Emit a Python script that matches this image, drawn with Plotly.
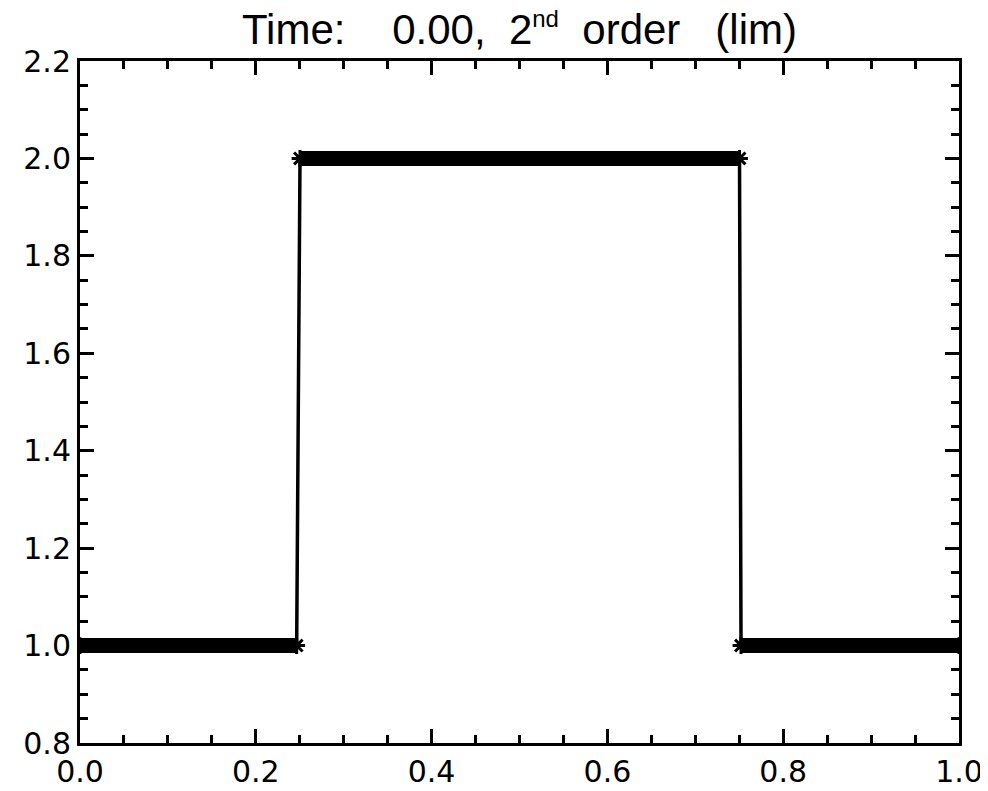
import plotly.graph_objects as go

# ---- data ----
x_profile = [0.0, 0.2465, 0.2484, 0.2503, 0.7503, 0.7512, 0.7520, 1.0]
y_profile = [1.0, 1.0, 1.5, 2.0, 2.0, 1.5, 1.0, 1.0]

x_tick_vals = [0.0, 0.2, 0.4, 0.6, 0.8, 1.0]
x_tick_text = ["0.0", "0.2", "0.4", "0.6", "0.8", "1.0"]
y_tick_vals = [0.8, 1.0, 1.2, 1.4, 1.6, 1.8, 2.0, 2.2]
y_tick_text = ["0.8", "1.0", "1.2", "1.4", "1.6", "1.8", "2.0", "2.2"]

title_text = ("Time:\u00a0\u00a0\u00a0\u00a00.00,\u00a0\u00a02"
              "<sup><span style=\"font-size:24px\">nd</span></sup>"
              "\u00a0\u00a0order\u00a0\u00a0\u00a0(lim)")

# ---- styles ----
BLACK = "black"
TICK_FONT = dict(family="DejaVu Sans", size=30, color=BLACK)
TITLE_FONT = dict(family="Liberation Sans", size=42, color=BLACK)

# page body adds an 8px offset; size the figure to fit the window
FIG_W, FIG_H = 980, 783

fig = go.Figure()

# thin connecting profile line
fig.add_trace(go.Scatter(x=x_profile, y=y_profile, mode="lines",
                         line=dict(color=BLACK, width=3.5),
                         hoverinfo="skip", showlegend=False))

# thick plateaus (dense asterisk markers in the original)
i = 0
n = len(x_profile)
while i < n:
    j = i
    while j + 1 < n and y_profile[j + 1] == y_profile[i]:
        j += 1
    if j > i:
        xs = [x_profile[i], x_profile[j]]
        ys = [y_profile[i], y_profile[j]]
        fig.add_trace(go.Scatter(x=xs, y=ys, mode="lines+markers",
                                 line=dict(color=BLACK, width=15),
                                 marker=dict(symbol="asterisk-open", size=14,
                                             line=dict(color=BLACK, width=3),
                                             color=BLACK),
                                 hoverinfo="skip", showlegend=False))
    i = j + 1

axis_common = dict(
    showgrid=False, zeroline=False, automargin=False,
    showline=True, linecolor=BLACK, linewidth=3, mirror="ticks",
    ticks="inside", ticklen=14, tickwidth=3, tickcolor=BLACK,
    tickfont=TICK_FONT,
    minor=dict(ticks="inside", ticklen=8, tickwidth=3, tickcolor=BLACK,
               dtick=0.05, showgrid=False),
)

fig.update_xaxes(range=[0, 1], tickmode="array", tickvals=x_tick_vals,
                 ticktext=x_tick_text, **axis_common)
fig.update_yaxes(range=[0.8, 2.2], tickmode="array", tickvals=y_tick_vals,
                 ticktext=y_tick_text, **axis_common)

fig.update_layout(
    width=FIG_W, height=FIG_H,
    margin=dict(l=72, r=29, t=53, b=48, autoexpand=False),
    paper_bgcolor="white", plot_bgcolor="white",
    title=dict(text=title_text, font=TITLE_FONT, x=0.5, xref="paper",
               xanchor="center", y=1 - 7 / FIG_H, yref="container",
               yanchor="top"),
)

fig.write_html("out.html")
